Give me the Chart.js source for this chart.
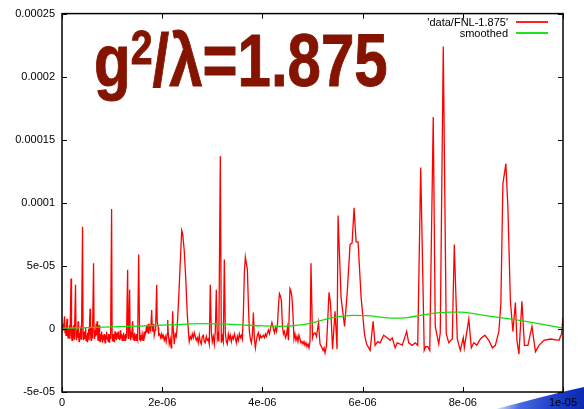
<!DOCTYPE html>
<html><head><meta charset="utf-8">
<script src="https://cdn.jsdelivr.net/npm/chart.js@4"></script>
<style>
html,body{margin:0;padding:0;background:#fff;}
#wrap{position:relative;width:584px;height:409px;overflow:hidden;}
#swoosh{position:absolute;left:496px;top:380px;width:88px;height:29px;background:linear-gradient(100deg, rgba(140,165,240,0) 0%, #4a6be0 30%, #1d3fcb 65%, #0b28b0 100%);clip-path:polygon(0% 100%, 25% 80%, 50% 60%, 75% 41%, 100% 24%, 100% 100%);z-index:0;}
canvas{position:absolute;left:0;top:0;z-index:1;}
#title{position:absolute;left:94px;top:23px;font-family:"Liberation Sans",Arial,sans-serif;font-weight:bold;font-size:75px;line-height:75px;color:#841400;white-space:nowrap;z-index:2;transform:scaleX(0.8);transform-origin:0 0;-webkit-text-stroke:1px #841400;}
#title sup{font-size:49px;line-height:0;vertical-align:baseline;position:relative;top:-22px;}
.leg{position:absolute;right:76px;font-family:"Liberation Sans",Arial,sans-serif;font-size:11px;line-height:11px;white-space:nowrap;text-align:right;color:#000;z-index:2;}
.legline{position:absolute;left:516px;width:32px;height:2px;z-index:2;}
</style></head>
<body>
<div id="wrap">
  <div id="swoosh"></div>
  <canvas id="c" width="584" height="409"></canvas>
  <div id="title">g<sup>2</sup>/λ=1.875</div>
  <div class="leg" style="top:17px">'data/FNL-1.875'</div>
  <div class="legline" style="top:21px;background:#ff2020"></div>
  <div class="leg" style="top:28px">smoothed</div>
  <div class="legline" style="top:32px;background:#20e020"></div>
</div>
<script>
const seriesNames = ["'data/FNL-1.875'", "smoothed"];

const redX = [
0,0.01e-6,0.02e-6,0.03e-6,0.05e-6,0.06e-6,0.07e-6,0.08e-6,0.09e-6,0.10e-6,
0.11e-6,0.12e-6,0.13e-6,0.14e-6,0.15e-6,0.16e-6,0.18e-6,0.19e-6,0.20e-6,0.21e-6,
0.22e-6,0.23e-6,0.24e-6,0.25e-6,0.27e-6,0.28e-6,0.29e-6,0.30e-6,0.31e-6,0.32e-6,
0.33e-6,0.34e-6,0.35e-6,0.36e-6,0.37e-6,0.38e-6,0.39e-6,0.41e-6,0.42e-6,0.43e-6,
0.44e-6,0.45e-6,0.46e-6,0.47e-6,0.48e-6,0.49e-6,0.50e-6,0.51e-6,0.52e-6,0.53e-6,
0.54e-6,0.56e-6,0.57e-6,0.58e-6,0.59e-6,0.60e-6,0.61e-6,0.63e-6,0.64e-6,0.65e-6,
0.66e-6,0.67e-6,0.68e-6,0.69e-6,0.70e-6,0.71e-6,0.72e-6,0.73e-6,0.74e-6,0.75e-6,
0.76e-6,0.77e-6,0.78e-6,0.79e-6,0.80e-6,0.81e-6,0.82e-6,0.83e-6,0.84e-6,0.85e-6,
0.86e-6,0.87e-6,0.88e-6,0.89e-6,0.90e-6,0.91e-6,0.92e-6,0.93e-6,0.94e-6,0.95e-6,
0.96e-6,0.97e-6,0.99e-6,1.00e-6,1.01e-6,1.02e-6,1.03e-6,1.04e-6,1.05e-6,1.06e-6,
1.07e-6,1.08e-6,1.09e-6,1.10e-6,1.11e-6,1.12e-6,1.13e-6,1.14e-6,1.15e-6,1.16e-6,
1.17e-6,1.18e-6,1.19e-6,1.20e-6,1.21e-6,1.22e-6,1.23e-6,1.24e-6,1.25e-6,1.26e-6,
1.27e-6,1.28e-6,1.29e-6,1.31e-6,1.32e-6,1.33e-6,1.35e-6,1.36e-6,1.37e-6,1.38e-6,
1.39e-6,1.41e-6,1.42e-6,1.43e-6,1.44e-6,1.45e-6,1.46e-6,1.47e-6,1.48e-6,1.49e-6,
1.51e-6,1.53e-6,1.55e-6,1.56e-6,1.57e-6,1.58e-6,1.59e-6,1.60e-6,1.62e-6,1.63e-6,
1.64e-6,1.65e-6,1.67e-6,1.69e-6,1.70e-6,1.72e-6,1.73e-6,1.75e-6,1.77e-6,1.79e-6,
1.80e-6,1.81e-6,1.83e-6,1.84e-6,1.86e-6,1.87e-6,1.89e-6,1.90e-6,1.92e-6,1.93e-6,
1.95e-6,1.97e-6,1.99e-6,2.00e-6,2.02e-6,2.04e-6,2.06e-6,2.08e-6,2.10e-6,2.11e-6,
2.12e-6,2.14e-6,2.16e-6,2.18e-6,2.19e-6,2.21e-6,2.22e-6,2.24e-6,2.26e-6,2.28e-6,
2.30e-6,2.33e-6,2.36e-6,2.39e-6,2.41e-6,2.44e-6,2.47e-6,2.50e-6,2.53e-6,2.54e-6,
2.56e-6,2.58e-6,2.60e-6,2.62e-6,2.64e-6,2.66e-6,2.68e-6,2.70e-6,2.72e-6,2.74e-6,
2.76e-6,2.78e-6,2.80e-6,2.82e-6,2.84e-6,2.86e-6,2.88e-6,2.90e-6,2.92e-6,2.94e-6,
2.96e-6,2.98e-6,3.00e-6,3.02e-6,3.04e-6,3.06e-6,3.08e-6,3.10e-6,3.12e-6,3.13e-6,
3.16e-6,3.18e-6,3.20e-6,3.22e-6,3.24e-6,3.26e-6,3.28e-6,3.30e-6,3.32e-6,3.34e-6,
3.36e-6,3.38e-6,3.40e-6,3.42e-6,3.44e-6,3.46e-6,3.48e-6,3.50e-6,3.52e-6,3.54e-6,
3.56e-6,3.58e-6,3.60e-6,3.62e-6,3.64e-6,3.66e-6,3.68e-6,3.70e-6,3.72e-6,3.74e-6,
3.76e-6,3.78e-6,3.80e-6,3.82e-6,3.84e-6,3.86e-6,3.88e-6,3.90e-6,3.92e-6,3.94e-6,
3.96e-6,3.98e-6,4.00e-6,4.02e-6,4.04e-6,4.06e-6,4.08e-6,4.10e-6,4.12e-6,4.14e-6,
4.16e-6,4.19e-6,4.22e-6,4.24e-6,4.26e-6,4.28e-6,4.30e-6,4.32e-6,4.34e-6,4.36e-6,
4.38e-6,4.40e-6,4.42e-6,4.44e-6,4.46e-6,4.48e-6,4.50e-6,4.52e-6,4.55e-6,4.57e-6,
4.59e-6,4.61e-6,4.63e-6,4.65e-6,4.67e-6,4.69e-6,4.71e-6,4.73e-6,4.75e-6,4.77e-6,
4.79e-6,4.81e-6,4.83e-6,4.85e-6,4.87e-6,4.89e-6,4.91e-6,4.93e-6,4.95e-6,4.97e-6,
5.00e-6,5.02e-6,5.05e-6,5.08e-6,5.12e-6,5.15e-6,5.18e-6,5.21e-6,5.23e-6,5.25e-6,
5.28e-6,5.33e-6,5.36e-6,5.40e-6,5.45e-6,5.49e-6,5.51e-6,5.57e-6,5.64e-6,5.69e-6,
5.75e-6,5.79e-6,5.83e-6,5.87e-6,5.91e-6,5.97e-6,6.04e-6,6.08e-6,6.15e-6,6.21e-6,
6.25e-6,6.30e-6,6.35e-6,6.42e-6,6.49e-6,6.55e-6,6.59e-6,6.65e-6,6.69e-6,6.75e-6,
6.79e-6,6.88e-6,6.92e-6,6.99e-6,7.05e-6,7.10e-6,7.16e-6,7.23e-6,7.26e-6,7.30e-6,
7.34e-6,7.41e-6,7.45e-6,7.52e-6,7.55e-6,7.61e-6,7.67e-6,7.72e-6,7.79e-6,7.83e-6,
7.89e-6,7.95e-6,8.01e-6,8.03e-6,8.12e-6,8.17e-6,8.22e-6,8.28e-6,8.35e-6,8.44e-6,
8.52e-6,8.59e-6,8.65e-6,8.72e-6,8.76e-6,8.80e-6,8.86e-6,8.90e-6,8.95e-6,9.00e-6,
9.05e-6,9.08e-6,9.12e-6,9.18e-6,9.23e-6,9.30e-6,9.38e-6,9.45e-6,9.52e-6,9.62e-6,
9.75e-6,9.92e-6,9.97e-6,10.0e-6
];
const redY = [
2e-6,-2e-6,4e-6,-1e-6,10e-6,-3e-6,1e-6,-5e-6,2e-6,8e-6,
-3e-6,-7e-6,1e-6,-5e-6,3e-6,-8e-6,40e-6,-5e-6,-9e-6,1e-6,
-6e-6,3e-6,-8e-6,-2e-6,35e-6,-4e-6,-9e-6,-1e-6,-7e-6,6e-6,
-4e-6,-10e-6,-3e-6,-7e-6,2e-6,-8e-6,-3e-6,81e-6,-5e-6,-9e-6,
-2e-6,-8e-6,-4e-6,1e-6,-9e-6,-5e-6,-10e-6,-3e-6,-7e-6,0,
-9e-6,16e-6,-4e-6,-9e-6,1e-6,-7e-6,-3e-6,52e-6,-2e-6,-8e-6,
-1e-6,-6e-6,4e-6,-5e-6,6e-6,-3e-6,-9e-6,-2e-6,3e-6,-6e-6,
-10e-6,-4e-6,-8e-6,-2e-6,-7e-6,-11e-6,-5e-6,-9e-6,-4e-6,-8e-6,
-11e-6,-5e-6,-7e-6,-2e-6,-8e-6,-6e-6,-10e-6,-4e-6,-7e-6,-11e-6,
-4e-6,-8e-6,95e-6,-6e-6,-10e-6,-4e-6,-7e-6,-10e-6,-5e-6,-2e-6,
-8e-6,-6e-6,-9e-6,-3e-6,-7e-6,-2e-6,-8e-6,-5e-6,-9e-6,-6e-6,
-1e-6,-7e-6,-4e-6,-9e-6,-5e-6,-9e-6,-3e-6,-7e-6,-5e-6,-9e-6,
-4e-6,-7e-6,-2e-6,47e-6,-4e-6,-8e-6,31e-6,-5e-6,-9e-6,-2e-6,
-7e-6,6e-6,-8e-6,-4e-6,-9e-6,-3e-6,-7e-6,-5e-6,-9e-6,-4e-6,
-8e-6,59e-6,-9e-6,-6e-6,-10e-6,-5e-6,-9e-6,-4e-6,-9e-6,-6e-6,
-2e-6,-6e-6,-3e-6,3e-6,-3e-6,4e-6,-4e-6,2e-6,-1e-6,15e-6,
3e-6,-2e-6,4e-6,-5e-6,-1e-6,3e-6,35e-6,6e-6,1e-6,-5e-6,
-4e-6,-7e-6,-4e-6,-7e-6,-5e-6,-9e-6,-6e-6,-10e-6,-4e-6,7e-6,
-3e-6,-12e-6,-8e-6,-15e-6,-10e-6,14e-6,0,-12e-6,-4e-6,-6e-6,
2e-6,25e-6,52e-6,78e-6,75e-6,62e-6,40e-6,12e-6,-6e-6,-10e-6,
-6e-6,-8e-6,-4e-6,-7e-6,-3e-6,-6e-6,-9e-6,-7e-6,-11e-6,-5e-6,
-10e-6,-12e-6,-6e-6,-5e-6,-10e-6,-11e-6,-6e-6,-9e-6,-8e-6,-12e-6,
35e-6,-2e-6,-10e-6,-6e-6,-12e-6,-2e-6,31e-6,-8e-6,-4e-6,-10e-6,
137e-6,-11e-6,-6e-6,-10e-6,55e-6,-3e-6,-10e-6,-12e-6,-4e-6,-8e-6,
-5e-6,-10e-6,-6e-6,-8e-6,-4e-6,-7e-6,-11e-6,-6e-6,-9e-6,-4e-6,
-7e-6,-5e-6,-8e-6,12e-6,45e-6,57e-6,52e-6,47e-6,20e-6,-2e-6,
-8e-6,-11e-6,-5e-6,13e-6,-8e-6,-15e-6,-9e-6,-5e-6,-3e-6,-8e-6,
-5e-6,-7e-6,-6e-6,-5e-6,-7e-6,-4e-6,-6e-6,-3e-6,-1e-6,-4e-6,
0,5e-6,0,-3e-6,1e-6,-2e-6,3e-6,18e-6,28e-6,26e-6,
22e-6,2e-6,-4e-6,-2e-6,-7e-6,-5e-6,1e-6,-9e-6,32e-6,30e-6,
25e-6,12e-6,-8e-6,-4e-6,-9e-6,-6e-6,-10e-6,-5e-6,-8e-6,-11e-6,
-10e-6,-12e-6,-10e-6,-13e-6,-11e-6,-14e-6,-12e-6,-15e-6,-10e-6,52e-6,
-7e-6,-4e-6,-3e-6,-6e-6,5e-6,-12e-6,-14e-6,-17e-6,-15e-6,-19e-6,
-13e-6,29e-6,20e-6,-16e-6,14e-6,-16e-6,90e-6,25e-6,2e-6,27e-6,
67e-6,68e-6,96e-6,69e-6,69e-6,25e-6,-5e-6,-12e-6,-17e-6,6e-6,
-13e-6,-10e-6,-11e-6,-5e-6,-7e-6,-9e-6,-7e-6,-15e-6,-11e-6,-12e-6,
-13e-6,-2e-6,-11e-6,-13e-6,-11e-6,-13e-6,128e-6,-17e-6,-14e-6,-14e-6,
-17e-6,168e-6,2e-6,-12e-6,-3e-6,224e-6,-4e-6,-11e-6,-8e-6,67e-6,
-8e-6,-17e-6,-7e-6,-15e-6,8e-6,-15e-6,-11e-6,-13e-6,-8e-6,-5e-6,
-9e-6,-15e-6,-13e-6,-2e-6,20e-6,115e-6,131e-6,96e-6,22e-6,-2e-6,
21e-6,-9e-6,-20e-6,22e-6,-13e-6,-13e-6,2e-6,-18e-6,-13e-6,-9e-6,
-8e-6,-9e-6,-4e-6,9e-6
];

const greenX = [0,0.5e-6,1.0e-6,1.5e-6,2.0e-6,2.5e-6,2.8e-6,3.2e-6,3.6e-6,4.0e-6,4.4e-6,4.8e-6,5.1e-6,5.4e-6,5.8e-6,6.1e-6,6.4e-6,6.65e-6,6.9e-6,7.15e-6,7.45e-6,7.75e-6,7.95e-6,8.3e-6,8.75e-6,9.1e-6,9.4e-6,9.7e-6,10.0e-6];
const greenY = [0.6e-6,1.0e-6,1.6e-6,2.2e-6,3.0e-6,3.8e-6,4.2e-6,4.0e-6,3.2e-6,2.4e-6,2.1e-6,3.4e-6,6.0e-6,8.9e-6,10.8e-6,10.6e-6,9.2e-6,8.5e-6,9.0e-6,10.8e-6,12.6e-6,13.4e-6,13.4e-6,11.5e-6,8.9e-6,7.0e-6,5.0e-6,2.8e-6,0.6e-6];

const xTickValues = [0,2e-6,4e-6,6e-6,8e-6,1e-5];
const xTickLabels = ['0','2e-06','4e-06','6e-06','8e-06','1e-05'];
const yTickValues = [-5e-5,0,5e-5,1e-4,1.5e-4,2e-4,2.5e-4];
const yTickLabels = ['-5e-05','0','5e-05','0.0001','0.00015','0.0002','0.00025'];

const redData = redX.map((x,i)=>({x:x,y:redY[i]}));
const greenData = greenX.map((x,i)=>({x:x,y:greenY[i]}));

const framePlugin = {
  id:'frame',
  afterDatasetsDraw(chart){
    const ctx = chart.ctx, a = chart.chartArea, xs = chart.scales.x, ys = chart.scales.y;
    ctx.save();
    ctx.strokeStyle = '#000';
    ctx.lineWidth = 1;
    ctx.beginPath();
    xTickValues.forEach(v=>{
      const px = Math.round(xs.getPixelForValue(v)) + 0.5;
      ctx.moveTo(px,a.bottom); ctx.lineTo(px,a.bottom-5);
      ctx.moveTo(px,a.top); ctx.lineTo(px,a.top+5);
    });
    yTickValues.forEach(v=>{
      const py = Math.round(ys.getPixelForValue(v)) + 0.5;
      ctx.moveTo(a.left,py); ctx.lineTo(a.left+5,py);
      ctx.moveTo(a.right,py); ctx.lineTo(a.right-5,py);
    });
    ctx.stroke();
    ctx.lineWidth = 1.5;
    ctx.strokeRect(a.left, a.top, a.right-a.left, a.bottom-a.top);
    ctx.restore();
  }
};

const tickFont = {family:'"Liberation Sans", Arial, sans-serif', size:11};

new Chart(document.getElementById('c'), {
  type:'scatter',
  data:{datasets:[
    {label:seriesNames[0], data:redData, showLine:true, borderColor:'#ff0000', backgroundColor:'#ff0000', borderWidth:1.3, pointRadius:0, tension:0, order:1},
    {label:seriesNames[1], data:greenData, showLine:true, borderColor:'#10e010', backgroundColor:'#10e010', borderWidth:1.3, pointRadius:0, cubicInterpolationMode:'monotone', order:0}
  ]},
  options:{
    responsive:false, animation:false, devicePixelRatio:1,
    layout:{padding:{top:12,right:21,left:0,bottom:0}},
    plugins:{legend:{display:false}, tooltip:{enabled:false}},
    scales:{
      x:{type:'linear', min:0, max:1e-5,
        afterBuildTicks:(ax)=>{ax.ticks = xTickValues.map(v=>({value:v}));},
        afterFit:(ax)=>{ax.height = 17;},
        grid:{display:false, drawTicks:false}, border:{display:false},
        ticks:{font:tickFont, color:'#000', padding:4, maxRotation:0, autoSkip:false,
          callback:(v,i)=>xTickLabels[i]}},
      y:{type:'linear', min:-5e-5, max:2.5e-4,
        afterBuildTicks:(ax)=>{ax.ticks = yTickValues.map(v=>({value:v}));},
        afterFit:(ax)=>{ax.width = 62;},
        grid:{display:false, drawTicks:false}, border:{display:false},
        ticks:{font:tickFont, color:'#000', padding:7, autoSkip:false,
          callback:(v,i)=>yTickLabels[i]}}
    }
  },
  plugins:[framePlugin]
});
</script>
</body></html>
